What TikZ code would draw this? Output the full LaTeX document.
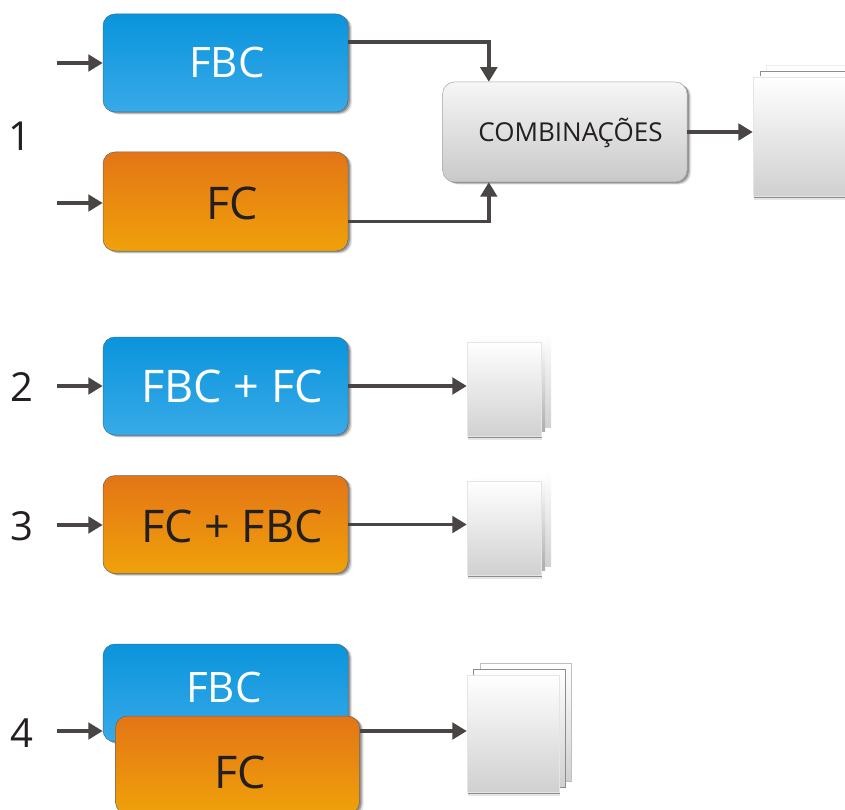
\documentclass[tikz,border=0pt]{standalone}
\usepackage{fontspec}
\setmainfont{Open Sans}
\usetikzlibrary{arrows.meta,shadows}
\definecolor{ink}{HTML}{231F20}
\definecolor{arrowc}{HTML}{4A4545}
\definecolor{blueTop}{HTML}{0A94DC}
\definecolor{blueBot}{HTML}{38AAE8}
\definecolor{blueEdge}{HTML}{3A6F90}
\definecolor{orTop}{HTML}{E37516}
\definecolor{orBot}{HTML}{F0A10A}
\definecolor{greyTop}{HTML}{F6F6F6}
\definecolor{greyBot}{HTML}{C9C9C9}
\definecolor{sheetBot}{HTML}{D0D0D0}
\tikzset{
  softshadow/.style={
    drop shadow={shadow xshift=4.2pt,shadow yshift=-2.6pt,fill=black,opacity=.09},
    drop shadow={shadow xshift=3.0pt,shadow yshift=-1.9pt,fill=black,opacity=.16},
    drop shadow={shadow xshift=1.8pt,shadow yshift=-1.1pt,fill=black,opacity=.24}},
  boxbase/.style={rectangle,rounded corners=12pt,minimum width=245pt,minimum height=98pt,
    inner sep=0pt,line width=.5pt,softshadow},
  bluebox/.style={boxbase,draw=blueEdge,top color=blueTop,bottom color=blueBot,text=white},
  orangebox/.style={boxbase,draw=black!60,top color=orTop,bottom color=orBot,text=ink},
  greybox/.style={boxbase,draw=black!35,top color=greyTop,bottom color=greyBot,text=ink},
  sheet/.style={rectangle,inner sep=0pt,top color=white,bottom color=sheetBot,draw=black!10,line width=.4pt,
    drop shadow={shadow xshift=1pt,shadow yshift=-4pt,fill=black,opacity=.10},
    drop shadow={shadow xshift=.6pt,shadow yshift=-2.2pt,fill=black,opacity=.38}},
  backsheet/.style={rectangle,inner sep=0pt,top color=white,bottom color=sheetBot,draw=black!45,line width=.5pt},
  faintsheet/.style={rectangle,inner sep=0pt,top color=white,bottom color=sheetBot,draw=black!8,line width=.4pt},
  conn/.style={draw=arrowc,line width=3.6pt,-{Triangle[length=14.5pt,width=16.5pt]}},
  bigtext/.style={font=\fontsize{45}{45}\selectfont},
  fbctext/.style={font=\fontsize{42}{42}\selectfont},
  combtext/.style={font=\fontsize{26}{26}\selectfont},
  num/.style={text=ink,font=\fontsize{40}{40}\selectfont,inner sep=0pt},
  label/.style={inner sep=0pt},
}
\begin{document}
\begin{tikzpicture}[x=1pt,y=-1pt]
\useasboundingbox (0,0) rectangle (845,810);
\fill[white] (0,0) rectangle (845,810);
% numbers
\node[num] (n1) at (20,136) {1};
\node[num] (n2) at (22,387) {2};
\node[num] (n3) at (22,526) {3};
\node[num] (n4) at (22,733) {4};
% free ends
\coordinate (s1) at (57,63);
\coordinate (s2) at (57,203);
\coordinate (s3) at (57,386);
\coordinate (s4) at (57,525);
\coordinate (s5) at (57,731);
% group 1
\node[bluebox] (fbc1) at (225.5,63) {};
\node[label,text=white,fbctext] (fbc1t) at (227,63) {FBC};
\node[orangebox,minimum height=99pt] (fc1) at (225.5,201.5) {};
\node[label,text=ink,bigtext] (fc1t) at (232,203) {FC};
\node[greybox,minimum height=100pt,minimum width=244.5pt] (comb) at (564.8,132) {};
\node[label,text=ink,combtext] (combt) at (570.5,133) {COMBINAÇÕES};
\node[faintsheet,minimum width=92pt,minimum height=119pt] (d1c) at (812,124.5) {};
\node[backsheet,minimum width=92pt,minimum height=119pt] (d1b) at (806,130.5) {};
\node[sheet,minimum width=92pt,minimum height=119pt] (d1a) at (799,136.5) {};
% group 2
\node[bluebox] (fbc2) at (225.5,386) {};
\node[label,text=white,bigtext] (fbc2t) at (232,386) {FBC + FC};
\node[faintsheet,draw=none,minimum width=74pt,minimum height=94pt] (d2c) at (514,380) {};
\node[faintsheet,draw=none,bottom color=black!32,minimum width=74pt,minimum height=94pt] (d2b) at (508,384) {};
\node[sheet,minimum width=74pt,minimum height=94pt] (d2a) at (504,389) {};
% group 3
\node[orangebox] (fc3) at (225.5,524.5) {};
\node[label,text=ink,bigtext] (fc3t) at (232,526) {FC + FBC};
\node[faintsheet,draw=none,minimum width=74pt,minimum height=94pt] (d3c) at (514,519) {};
\node[faintsheet,draw=none,bottom color=black!32,minimum width=74pt,minimum height=94pt] (d3b) at (508,523) {};
\node[sheet,minimum width=74pt,minimum height=94pt] (d3a) at (504,528) {};
% group 4
\node[bluebox] (fbc4) at (225.5,693) {};
\node[label,text=white,fbctext] (fbc4t) at (224,687) {FBC};
\node[orangebox,minimum width=244pt] (fc4) at (237.5,765) {};
\node[label,text=ink,bigtext] (fc4t) at (240,772) {FC};
\node[faintsheet,draw=black!25,minimum width=91pt,minimum height=118pt] (d4c) at (525.5,722) {};
\node[backsheet,minimum width=92pt,minimum height=118pt] (d4b) at (519,728) {};
\node[sheet,minimum width=92pt,minimum height=117pt] (d4a) at (513,733.5) {};
% connectors
\draw[conn] (s1) -- (s1 -| fbc1.west);
\draw[conn] (s2) -- (s2 -| fc1.west);
\draw[conn] ([yshift=21pt]fbc1.east) -| ([xshift=-76pt]comb.north);
\draw[conn] ([yshift=-20pt]fc1.east) -| ([xshift=-76pt]comb.south);
\draw[conn] (comb.east) -- (comb.east -| d1a.west);
\draw[conn] (s3) -- (s3 -| fbc2.west);
\draw[conn] (fbc2.east) -- (fbc2.east -| d2a.west);
\draw[conn] (s4) -- (s4 -| fc3.west);
\draw[conn] (fc3.east) -- (fc3.east -| d3a.west);
\draw[conn] (s5) -- (s5 -| fbc4.west);
\draw[conn] (s5 -| fc4.east) -- (s5 -| d4a.west);
\end{tikzpicture}
\end{document}
